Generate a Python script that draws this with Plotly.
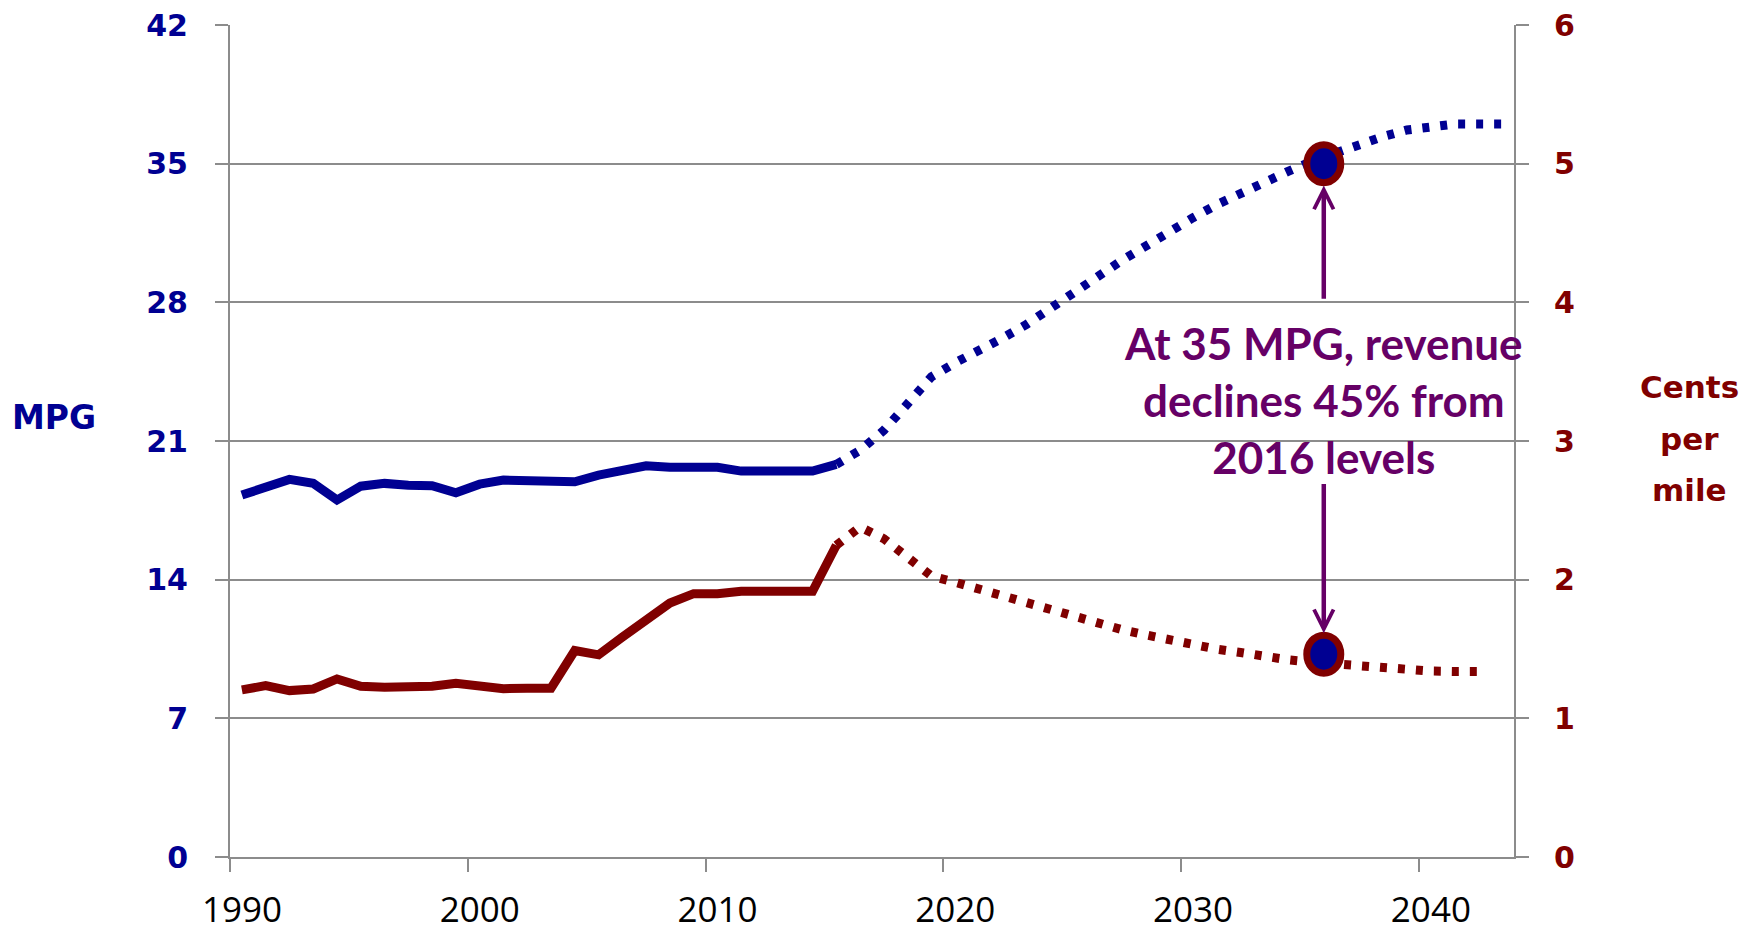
import plotly.graph_objects as go

# --- data --------------------------------------------------------------------
hist_years = list(range(1990, 2016))
mpg_hist = [18.27, 18.69, 19.06, 18.86, 18.02, 18.72, 18.86, 18.77, 18.74, 18.39,
            18.82, 19.03, 18.99, 19.01, 18.94, 19.28, 19.57, 19.75, 19.67, 19.67,
            19.67, 19.48, 19.48, 19.48, 19.48, 19.82]
cents_hist = [1.205, 1.236, 1.20, 1.212, 1.284, 1.231, 1.224, 1.227, 1.231, 1.253,
              1.229, 1.214, 1.217, 1.217, 1.489, 1.458, 1.586, 1.718, 1.831, 1.899,
              1.899, 1.916, 1.916, 1.916, 1.916, 2.248]

mpg_proj_years = list(range(2015, 2044))
mpg_proj = [19.82, 20.53, 21.54, 22.91, 24.24, 24.95, 25.52, 26.20, 26.89, 27.66,
            28.47, 29.30, 30.11, 30.85, 31.58, 32.27, 32.93, 33.53, 34.11, 34.61,
            35.12, 35.57, 35.96, 36.37, 36.70, 36.90, 37.00, 37.00, 37.00]

cents_proj_years = list(range(2015, 2043))
cents_proj = [2.248, 2.38, 2.295, 2.16, 2.026, 1.981, 1.930, 1.882, 1.837, 1.787,
              1.736, 1.686, 1.640, 1.602, 1.564, 1.530, 1.499, 1.475, 1.446, 1.422,
              1.405, 1.391, 1.372, 1.357, 1.345, 1.341, 1.338, 1.338]

x_ticks = [1990, 2000, 2010, 2020, 2030, 2040]
mpg_ticks = [0, 7, 14, 21, 28, 35, 42]
cents_ticks = [0, 1, 2, 3, 4, 5, 6]

callout_year = 2036
callout_mpg = 35
callout_cents = 1.463
note = "At 35 MPG, revenue<br>declines 45% from<br>2016 levels"

BLUE = "#000092"
RED = "#800000"
PURPLE = "#660066"
GRID = "#8c8c8c"
DOTS = "7px,11px"


def mid(years):
    # Excel category axis: points sit in the middle of each year slot
    return [y + 0.5 for y in years]


fig = go.Figure()
fig.add_trace(go.Scatter(x=mid(hist_years), y=mpg_hist, mode="lines",
                         line=dict(color=BLUE, width=9)))
fig.add_trace(go.Scatter(x=mid(mpg_proj_years), y=mpg_proj, mode="lines",
                         line=dict(color=BLUE, width=9, dash=DOTS)))
fig.add_trace(go.Scatter(x=mid(hist_years), y=cents_hist, mode="lines", yaxis="y2",
                         line=dict(color=RED, width=9)))
fig.add_trace(go.Scatter(x=mid(cents_proj_years), y=cents_proj, mode="lines", yaxis="y2",
                         line=dict(color=RED, width=9, dash=DOTS)))

# highlighted points
for yref, yval in [("y", callout_mpg), ("y2", callout_cents)]:
    fig.add_shape(type="circle", xref="x", yref=yref,
                  xsizemode="pixel", ysizemode="pixel",
                  xanchor=callout_year, yanchor=yval,
                  x0=-17, x1=17, y0=-19, y1=19,
                  line=dict(color=RED, width=7), fillcolor=BLUE)

# arrows
fig.add_annotation(x=callout_year, y=33.9, ax=callout_year, ay=28.1,
                   xref="x", yref="y", axref="x", ayref="y", text="",
                   showarrow=True, arrowhead=5, arrowsize=0.85, arrowwidth=4.5,
                   arrowcolor=PURPLE)
fig.add_annotation(x=callout_year, y=11.3, ax=callout_year, ay=18.9,
                   xref="x", yref="y", axref="x", ayref="y", text="",
                   showarrow=True, arrowhead=5, arrowsize=0.85, arrowwidth=4.5,
                   arrowcolor=PURPLE)
fig.add_annotation(x=callout_year, y=23.07, xref="x", yref="y", text=note,
                   showarrow=False, align="center",
                   font=dict(family="Lato", size=44, color=PURPLE, weight="bold"))

# axis titles
fig.add_annotation(x=-0.137, y=0.528, xref="paper", yref="paper", text="MPG",
                   showarrow=False, xanchor="center", yanchor="middle",
                   font=dict(family="DejaVu Sans", size=33, color=BLUE, weight="bold"))
for txt, yp in [("Cents", 0.565), ("per", 0.502), ("mile", 0.441)]:
    fig.add_annotation(x=1.137, y=yp, xref="paper", yref="paper", text=txt,
                       showarrow=False, xanchor="center", yanchor="middle",
                       font=dict(family="DejaVu Sans", size=31, color=RED, weight="bold"))

fig.update_layout(
    width=1749, height=923,
    margin=dict(l=222, r=243, t=17, b=74),
    paper_bgcolor="white", plot_bgcolor="white",
    showlegend=False,
    xaxis=dict(range=[1990, 2044], tickvals=x_ticks, showgrid=False,
               showline=True, linecolor=GRID, linewidth=2, automargin=False,
               ticks="outside", ticklen=13, tickwidth=2, tickcolor=GRID,
               ticklabelstandoff=8, ticklabelshift=12, ticklabeloverflow="allow",
               tickfont=dict(family="Open Sans", size=35, color="black"),
               zeroline=False),
    yaxis=dict(range=[0, 42], tickvals=mpg_ticks, showgrid=True, gridcolor=GRID,
               gridwidth=2, showline=True, linecolor=GRID, linewidth=2,
               ticks="outside", ticklen=13, tickwidth=2, tickcolor=GRID,
               ticklabelstandoff=21, zeroline=False, automargin=False,
               ticklabeloverflow="allow",
               tickfont=dict(family="DejaVu Sans", size=30, color=BLUE, weight="bold")),
    yaxis2=dict(range=[0, 6], tickvals=cents_ticks, overlaying="y", side="right",
                showgrid=False, showline=True, linecolor=GRID, linewidth=2,
                ticks="outside", ticklen=13, tickwidth=2, tickcolor=GRID,
                ticklabelstandoff=19, zeroline=False, automargin=False,
                ticklabeloverflow="allow",
                tickfont=dict(family="DejaVu Sans", size=30, color=RED, weight="bold")),
)

fig.write_html("out.html")
